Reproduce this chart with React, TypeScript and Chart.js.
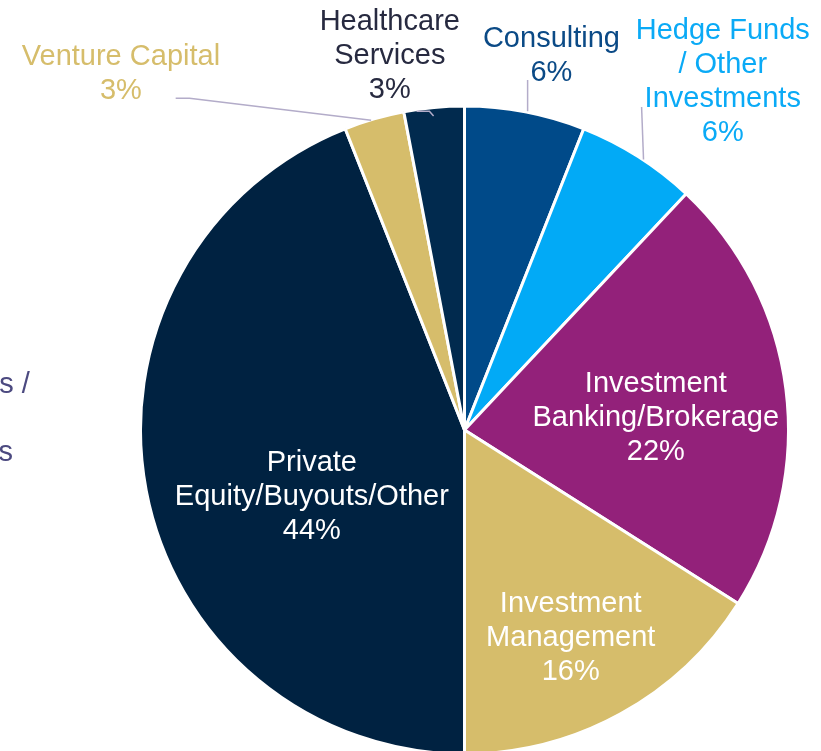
import React, { useEffect, useRef } from "react";
import { Chart, registerables } from "chart.js";

Chart.register(...registerables);

const categories = [
  "Consulting",
  "Hedge Funds / Other Investments",
  "Investment Banking/Brokerage",
  "Investment Management",
  "Private Equity/Buyouts/Other",
  "Venture Capital",
  "Healthcare Services",
];
const shares = [6, 6, 22, 16, 44, 3, 3];
const sliceColors = ["#004a89", "#02aaf6", "#93217a", "#d6bd6b", "#002241", "#d6bd6b", "#012a4e"];
const labelLines = [
  ["Consulting", "6%"],
  ["Hedge Funds", "/ Other", "Investments", "6%"],
  ["Investment", "Banking/Brokerage", "22%"],
  ["Investment", "Management", "16%"],
  ["Private", "Equity/Buyouts/Other", "44%"],
  ["Venture Capital", "3%"],
  ["Healthcare", "Services", "3%"],
];
const labelColors = ["#0b4a86", "#0aaaf6", "#ffffff", "#ffffff", "#ffffff", "#d6bd6b", "#272a40"];
// label block centre, relative to pie centre, in radius units
const labelOffsets = [
  [0.27, -1.162],
  [0.802, -1.081],
  [0.594, -0.037],
  [0.33, 0.646],
  [-0.474, 0.208],
  [-1.067, -1.107],
  [-0.232, -1.162],
];
// leader lines: list of points, relative to pie centre, in radius units (null = none); last point meets arc
const leaders: (number[][] | null)[] = [
  [[0.196, -1.087], [0.196, -0.99]],
  [[0.55, -1.003], [0.556, -0.84]],
  null,
  null,
  null,
  [[-0.897, -1.03], [-0.854, -1.03], [-0.29, -0.962]],
  [[-0.149, -0.99], [-0.109, -0.99], [-0.096, -0.975]],
];
const partialLabelLines = ["Hedge Funds /", "Other", "Investments"];
const partialLabelOffset = [-1.645, -0.034];

const FONT = "29px 'Liberation Sans', Arial, sans-serif";
const LINE_H = 34;
const REF_R = 322;

const labelPlugin = {
  id: "sliceLabels",
  afterDatasetsDraw(chart: any) {
    const ctx = chart.ctx;
    const meta = chart.getDatasetMeta(0);
    const arc0 = meta.data[0];
    const cx = arc0.x;
    const cy = arc0.y;
    const r = REF_R;
    ctx.save();
    ctx.font = FONT;
    ctx.textAlign = "center";
    ctx.textBaseline = "middle";
    ctx.strokeStyle = "#b3acc9";
    ctx.lineWidth = 1.5;
    leaders.forEach((pts) => {
      if (!pts) return;
      ctx.beginPath();
      pts.forEach((p, i) => {
        const x = cx + p[0] * r;
        const y = cy + p[1] * r;
        if (i === 0) ctx.moveTo(x, y);
        else ctx.lineTo(x, y);
      });
      ctx.stroke();
    });
    labelLines.forEach((lines, i) => {
      const x = cx + labelOffsets[i][0] * r;
      const y0 = cy + labelOffsets[i][1] * r - ((lines.length - 1) * LINE_H) / 2;
      ctx.fillStyle = labelColors[i];
      lines.forEach((t, j) => ctx.fillText(t, x, y0 + j * LINE_H));
    });
    const px = cx + partialLabelOffset[0] * r;
    const py0 = cy + partialLabelOffset[1] * r - ((partialLabelLines.length - 1) * LINE_H) / 2;
    ctx.fillStyle = "#4c4a80";
    partialLabelLines.forEach((t, j) => ctx.fillText(t, px, py0 + j * LINE_H));
    ctx.restore();
  },
};

export default function App() {
  const ref = useRef<HTMLCanvasElement>(null);
  useEffect(() => {
    document.body.style.margin = "0";
    const chart = new Chart(ref.current!, {
      type: "pie",
      data: {
        labels: categories,
        datasets: [
          {
            data: shares,
            backgroundColor: sliceColors,
            borderColor: "#ffffff",
            borderWidth: 3,
            radius: REF_R + 2,
          } as any,
        ],
      },
      options: {
        animation: false,
        responsive: false,
        events: [],
        layout: { padding: { left: 143, right: 35, top: 109, bottom: 0 } },
        plugins: {
          legend: { display: false },
          tooltip: { enabled: false },
        },
      },
      plugins: [labelPlugin],
    });
    return () => chart.destroy();
  }, []);
  return (
    <div style={{ width: 821, height: 751, background: "#fff" }}>
      <canvas ref={ref} width={821} height={751} style={{ display: "block" }} />
    </div>
  );
}
